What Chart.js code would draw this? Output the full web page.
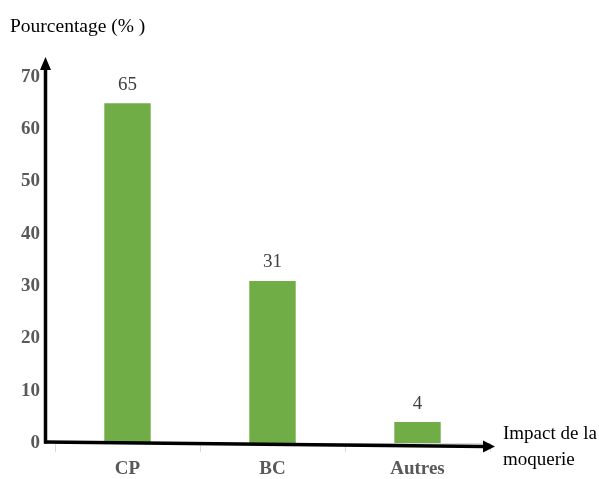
<!DOCTYPE html>
<html>
<head>
<meta charset="utf-8">
<script src="https://cdn.jsdelivr.net/npm/chart.js@4/dist/chart.umd.min.js"></script>
<style>
  html, body { margin: 0; padding: 0; background: #ffffff; }
  #wrap { width: 599px; height: 479px; }
</style>
</head>
<body>
<div id="wrap"><canvas id="c" width="599" height="479"></canvas></div>
<script>
// Catégories, valeurs et graduations
const categories = ['CP', 'BC', 'Autres'];
const pourcentages = [65, 31, 4];
const yTicks = [0, 10, 20, 30, 40, 50, 60, 70];

const yTitle = 'Pourcentage (% )';
const xTitle = ['Impact de la', 'moquerie'];

const SERIF = '"Liberation Serif", "Times New Roman", serif';

// Axes fléchés, titres d'axes et étiquettes de valeurs
const decorations = {
  id: 'decorations',
  afterDraw(chart) {
    const ctx = chart.ctx;
    const a = chart.chartArea;
    ctx.save();

    // valeurs au-dessus des barres
    const meta = chart.getDatasetMeta(0);
    ctx.fillStyle = '#404040';
    ctx.font = '19px ' + SERIF;
    ctx.textAlign = 'center';
    ctx.textBaseline = 'bottom';
    meta.data.forEach((bar, i) => {
      ctx.fillText(String(pourcentages[i]), bar.x, bar.y - 9);
    });

    // axe vertical avec flèche
    const ax = a.left - 9.5;
    ctx.strokeStyle = '#000';
    ctx.fillStyle = '#000';
    ctx.lineWidth = 3.5;
    ctx.beginPath();
    ctx.moveTo(ax, a.bottom + 0.5);
    ctx.lineTo(ax, a.top - 8);
    ctx.stroke();
    ctx.beginPath();
    ctx.moveTo(ax, a.top - 20);
    ctx.lineTo(ax - 5.5, a.top - 7);
    ctx.lineTo(ax + 5.5, a.top - 7);
    ctx.closePath();
    ctx.fill();

    // axe horizontal avec flèche (légèrement incliné)
    const y0 = a.bottom - 1;
    const y1 = a.bottom + 3.5;
    ctx.beginPath();
    ctx.moveTo(ax - 1.5, y0);
    ctx.lineTo(a.right - 5, y1);
    ctx.stroke();
    ctx.beginPath();
    ctx.moveTo(a.right + 5, y1);
    ctx.lineTo(a.right - 7, y1 - 6);
    ctx.lineTo(a.right - 7, y1 + 6);
    ctx.closePath();
    ctx.fill();

    // titres
    ctx.fillStyle = '#000';
    ctx.textAlign = 'left';
    ctx.textBaseline = 'alphabetic';
    ctx.font = '19.5px ' + SERIF;
    ctx.fillText(yTitle, 10, 32);
    ctx.font = '19px ' + SERIF;
    ctx.fillText(xTitle[0], 503, 439);
    ctx.fillText(xTitle[1], 503, 465);

    ctx.restore();
  }
};

new Chart(document.getElementById('c'), {
  type: 'bar',
  data: {
    labels: categories,
    datasets: [{
      data: pourcentages,
      backgroundColor: '#70AD47',
      borderWidth: 0,
      barPercentage: 0.32,
      categoryPercentage: 1.0
    }]
  },
  options: {
    responsive: false,
    animation: false,
    devicePixelRatio: 1,
    layout: { padding: { left: 0, right: 109, top: 77, bottom: 0 } },
    plugins: {
      legend: { display: false },
      tooltip: { enabled: false },
      title: { display: false }
    },
    scales: {
      x: {
        offset: true,
        afterFit(scale) { scale.height = 36; },
        grid: {
          display: true,
          offset: true,
          drawOnChartArea: false,
          drawTicks: true,
          tickLength: 9,
          color: '#d9d9d9',
          lineWidth: 1
        },
        border: { display: true, color: '#d9d9d9', width: 1 },
        ticks: {
          color: '#595959',
          padding: 8,
          font: { family: SERIF, size: 19, weight: 'bold', lineHeight: 1 }
        }
      },
      y: {
        min: 0,
        max: 70,
        afterFit(scale) { scale.width = 55; },
        afterBuildTicks(scale) { scale.ticks = yTicks.map(v => ({ value: v })); },
        grid: { display: false, drawTicks: false },
        border: { display: false },
        ticks: {
          color: '#595959',
          padding: 15,
          font: { family: SERIF, size: 19, weight: 'bold' }
        }
      }
    }
  },
  plugins: [decorations]
});
</script>
</body>
</html>
